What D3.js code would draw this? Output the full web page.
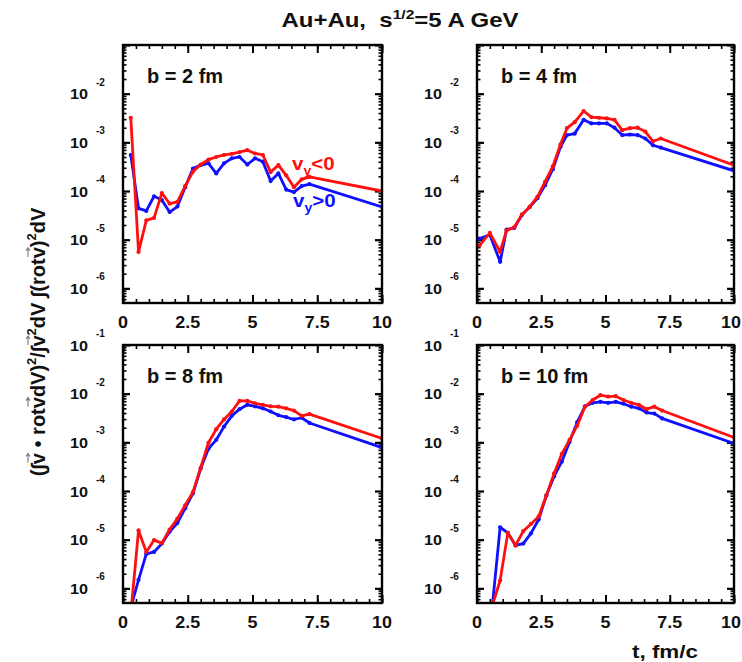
<!DOCTYPE html>
<html>
<head>
<meta charset="utf-8">
<script src="https://cdn.jsdelivr.net/npm/d3@7"></script>
<style>
  body { margin: 0; background: #fff; }
  svg { display: block; }
  text { font-family: "Liberation Sans", Arial, sans-serif; font-weight: bold; fill: #111; }
</style>
</head>
<body>
<svg id="chart" width="742" height="662"></svg>
<script>
// Output times (fm/c)
const timeGrid   = [0.3, 0.6, 0.9, 1.2, 1.5, 1.8, 2.1, 2.4, 2.7, 3.0, 3.3, 3.6, 3.9, 4.2, 4.5, 4.8, 5.1, 5.4, 5.7, 6.0, 6.3, 6.6, 6.9, 7.2, 10];
const timeGridB4 = [0.1, 0.5, 0.9, 1.15, 1.45, 1.75, 2.05, 2.35, 2.65, 2.95, 3.25, 3.5, 3.8, 4.15, 4.45, 4.75, 5.05, 5.35, 5.65, 5.95, 6.25, 6.55, 6.85, 7.15, 10];

// b = 2 fm
const b2Neg = [3.2e-3, 5.6e-6, 2.5e-5, 2.8e-5, 9.1e-5, 5.5e-5, 6.0e-5, 1.26e-4, 2.5e-4, 3.5e-4, 4.4e-4, 5.0e-4, 5.5e-4, 5.8e-4, 6.3e-4, 6.9e-4, 5.9e-4, 5.5e-4, 2.45e-4, 3.4e-4, 2.1e-4, 1.2e-4, 1.74e-4, 1.95e-4, 1.0e-4];
const b2Pos = [5.5e-4, 4.4e-5, 3.9e-5, 7.8e-5, 6.5e-5, 3.7e-5, 4.8e-5, 1.2e-4, 2.9e-4, 3.4e-4, 3.7e-4, 2.3e-4, 3.7e-4, 4.7e-4, 5.0e-4, 3.5e-4, 4.7e-4, 4.0e-4, 1.6e-4, 2.3e-4, 1.07e-4, 9.5e-5, 1.26e-4, 1.38e-4, 4.7e-5];

// b = 4 fm
const b4Neg = [7.6e-6, 1.38e-5, 5.6e-6, 1.55e-5, 1.8e-5, 3.3e-5, 4.7e-5, 7.6e-5, 1.55e-4, 3.2e-4, 9.1e-4, 1.95e-3, 2.6e-3, 4.4e-3, 3.3e-3, 3.2e-3, 3.1e-3, 2.9e-3, 1.78e-3, 1.95e-3, 2.0e-3, 1.66e-3, 1.05e-3, 1.2e-3, 3.4e-4];
const b4Pos = [1.05e-5, 1.26e-5, 3.5e-6, 1.62e-5, 1.74e-5, 3.2e-5, 4.7e-5, 7.1e-5, 1.32e-4, 2.8e-4, 8.1e-4, 1.41e-3, 1.51e-3, 2.9e-3, 2.45e-3, 2.45e-3, 2.45e-3, 2.0e-3, 1.41e-3, 1.45e-3, 1.41e-3, 1.2e-3, 8.7e-4, 7.8e-4, 2.6e-4];

// b = 8 fm
const b8Neg = [3.0e-7, 1.55e-5, 5.6e-6, 9.8e-6, 8.5e-6, 1.62e-5, 2.7e-5, 5.1e-5, 9.5e-5, 3.0e-4, 9.8e-4, 1.86e-3, 2.95e-3, 4.3e-3, 7.1e-3, 7.1e-3, 6.3e-3, 5.9e-3, 5.5e-3, 5.4e-3, 5.0e-3, 4.5e-3, 3.5e-3, 3.8e-3, 1.2e-3];
const b8Pos = [4.0e-7, 1.5e-6, 5.1e-6, 5.6e-6, 8.3e-6, 1.45e-5, 2.2e-5, 4.4e-5, 8.9e-5, 2.9e-4, 7.4e-4, 1.12e-3, 2.1e-3, 3.5e-3, 4.8e-3, 5.9e-3, 5.5e-3, 5.0e-3, 4.3e-3, 3.6e-3, 3.3e-3, 2.95e-3, 3.2e-3, 2.5e-3, 7.8e-4];

// b = 10 fm
const b10Neg = [3.0e-7, 4.5e-7, 1.45e-6, 1.38e-5, 7.6e-6, 1.5e-5, 2.1e-5, 3.0e-5, 8.1e-5, 2.3e-4, 5.8e-4, 1.12e-3, 2.2e-3, 5.4e-3, 7.4e-3, 9.3e-3, 8.7e-3, 8.9e-3, 7.4e-3, 6.5e-3, 5.9e-3, 4.8e-3, 5.4e-3, 4.5e-3, 1.26e-3];
const b10Pos = [3.5e-7, 4.5e-7, 1.8e-5, 1.38e-5, 7.6e-6, 8.3e-6, 1.35e-5, 2.6e-5, 8.1e-5, 2.0e-4, 4.0e-4, 1.02e-3, 2.6e-3, 5.5e-3, 6.5e-3, 6.8e-3, 6.5e-3, 6.8e-3, 6.2e-3, 5.4e-3, 5.0e-3, 4.1e-3, 3.9e-3, 3.1e-3, 9.5e-4];

const panelLabels = ["b = 2 fm", "b = 4 fm", "b = 8 fm", "b = 10 fm"];
const xTickValues = [0, 2.5, 5, 7.5, 10];
const xTickLabels = ["0", "2.5", "5", "7.5", "10"];
const yExpTop    = [-2, -3, -4, -5, -6];
const yExpBottom = [-1, -2, -3, -4, -5, -6];

const RED = "#ff1010", BLUE = "#1010ff";
const W = 742, H = 662;
const svg = d3.select("#chart");
svg.append("rect").attr("width", W).attr("height", H).attr("fill", "#fff");

const PH = 258;
const panels = [
  { label: panelLabels[0], t: timeGrid,   neg: b2Neg,  pos: b2Pos,  x0: 123, w: 259, y0: 45,  exps: yExpTop },
  { label: panelLabels[1], t: timeGridB4, neg: b4Neg,  pos: b4Pos,  x0: 477, w: 257, y0: 45,  exps: yExpTop },
  { label: panelLabels[2], t: timeGrid,   neg: b8Neg,  pos: b8Pos,  x0: 123, w: 259, y0: 345, exps: yExpBottom },
  { label: panelLabels[3], t: timeGrid,   neg: b10Neg, pos: b10Pos, x0: 477, w: 257, y0: 345, exps: yExpBottom }
];

const xMinor = d3.range(0, 10.001, 0.5);
const yMajor = [1e-6, 1e-5, 1e-4, 1e-3, 1e-2, 1e-1];
const yMinor = [];
[-7, -6, -5, -4, -3, -2].forEach(k => {
  for (let m = 2; m <= 9; m++) {
    const v = m * Math.pow(10, k);
    if (v > 5e-7 && v < 1e-1) yMinor.push(v);
  }
});

function styleTicks(sel, width) {
  sel.select(".domain").remove();
  sel.selectAll(".tick line").attr("stroke", "#000").attr("stroke-width", width);
}

// text stretched slightly wider than the font's natural width
function wideText(parent, x, y, size, sx, anchor) {
  return parent.append("text")
    .attr("transform", `translate(${x},${y}) scale(${sx},1)`)
    .attr("text-anchor", anchor || "start")
    .attr("font-size", size);
}

panels.forEach((p, i) => {
  const x = d3.scaleLinear().domain([0, 10]).range([p.x0, p.x0 + p.w]);
  const y = d3.scaleLog().domain([5e-7, 1e-1]).range([p.y0 + PH, p.y0]);
  const g = svg.append("g");

  const clipId = "clip" + i;
  g.append("clipPath").attr("id", clipId)
    .append("rect").attr("x", p.x0).attr("y", p.y0).attr("width", p.w).attr("height", PH);

  // inward ticks on all four sides
  const bottom = p.y0 + PH, right = p.x0 + p.w;
  g.append("g").attr("transform", `translate(0,${bottom})`)
    .call(d3.axisBottom(x).tickValues(xMinor).tickSize(-4).tickFormat("")).call(s => styleTicks(s, 1.6));
  g.append("g").attr("transform", `translate(0,${bottom})`)
    .call(d3.axisBottom(x).tickValues(xTickValues).tickSize(-8).tickFormat("")).call(s => styleTicks(s, 2));
  g.append("g").attr("transform", `translate(0,${p.y0})`)
    .call(d3.axisTop(x).tickValues(xMinor).tickSize(-4).tickFormat("")).call(s => styleTicks(s, 1.6));
  g.append("g").attr("transform", `translate(0,${p.y0})`)
    .call(d3.axisTop(x).tickValues(xTickValues).tickSize(-8).tickFormat("")).call(s => styleTicks(s, 2));
  g.append("g").attr("transform", `translate(${p.x0},0)`)
    .call(d3.axisLeft(y).tickValues(yMinor).tickSize(-3.5).tickFormat("")).call(s => styleTicks(s, 1.6));
  g.append("g").attr("transform", `translate(${p.x0},0)`)
    .call(d3.axisLeft(y).tickValues(yMajor).tickSize(-7).tickFormat("")).call(s => styleTicks(s, 2.2));
  g.append("g").attr("transform", `translate(${right},0)`)
    .call(d3.axisRight(y).tickValues(yMinor).tickSize(-3.5).tickFormat("")).call(s => styleTicks(s, 1.6));
  g.append("g").attr("transform", `translate(${right},0)`)
    .call(d3.axisRight(y).tickValues(yMajor).tickSize(-7).tickFormat("")).call(s => styleTicks(s, 2.2));

  // series
  const line = d3.line().x(d => x(d[0])).y(d => y(d[1]));
  const series = [
    { vals: p.pos, color: BLUE },
    { vals: p.neg, color: RED }
  ];
  const plot = g.append("g").attr("clip-path", `url(#${clipId})`);
  series.forEach(s => {
    const pts = p.t.map((t, j) => [t, s.vals[j]]);
    plot.append("path").datum(pts)
      .attr("d", line).attr("fill", "none")
      .attr("stroke", s.color).attr("stroke-width", 2.8)
      .attr("stroke-linejoin", "round").attr("stroke-linecap", "round");
    plot.selectAll(null).data(pts).enter().append("circle")
      .attr("cx", d => x(d[0])).attr("cy", d => y(d[1])).attr("r", 2.1)
      .attr("fill", s.color);
  });

  // frame
  g.append("rect").attr("x", p.x0).attr("y", p.y0).attr("width", p.w).attr("height", PH)
    .attr("fill", "none").attr("stroke", "#000").attr("stroke-width", 2.4);

  // x tick labels (kept inside the page at the right edge)
  const sx = 1.12;
  xTickValues.forEach((v, j) => {
    const t = wideText(g, x(v), bottom + 25, 16, sx, "middle").text(xTickLabels[j]);
    const half = t.node().getComputedTextLength() * sx / 2;
    if (x(v) + half > W - 1) {
      t.attr("transform", `translate(${W - 1},${bottom + 25}) scale(${sx},1)`).attr("text-anchor", "end");
    }
  });

  // y tick labels: 10 with exponent
  p.exps.forEach(k => {
    const yy = y(Math.pow(10, k));
    wideText(g, p.x0 - 35, yy + 5.5, 15, 1.08, "end").text("10");
    g.append("text").attr("x", p.x0 - 27).attr("y", yy - 8)
      .attr("text-anchor", "start").attr("font-size", 10).text(String(k));
  });

  // panel label
  g.append("text").attr("x", p.x0 + 24).attr("y", p.y0 + 38)
    .attr("font-size", 20).text(p.label);
});

// legend inside the b = 2 fm panel
const legend = [
  { sign: "<0", color: RED,  x: 292, y: 170 },
  { sign: ">0", color: BLUE, x: 293, y: 207 }
];
legend.forEach(l => {
  const t = wideText(svg, l.x, l.y, 19, 1.08, "start").style("fill", l.color);
  t.append("tspan").text("v");
  t.append("tspan").attr("font-size", 13).attr("dy", 5).text("y");
  t.append("tspan").attr("dy", -5).text(l.sign);
});

// title
const title = wideText(svg, 400, 27, 20, 1.2, "middle");
title.append("tspan").text("Au+Au,\u00a0 s");
title.append("tspan").attr("font-size", 13).attr("dy", -8).text("1/2");
title.append("tspan").attr("dy", 8).text("=5 A GeV");

// x axis title
wideText(svg, 632, 658, 19, 1.18, "start").text("t, fm/c");

// y axis title (rotated), vectors marked by arrows drawn over each v
const yTitleG = svg.append("g").attr("transform", "translate(45,342) rotate(-90)");
const yTitle = yTitleG.append("text").attr("x", 0).attr("y", 0).attr("text-anchor", "middle").attr("font-size", 20);
const parts = [
  ["(\u222b", 0], ["v", "vec"], [" \u2022 rot", 0], ["v", "vec"], ["dV)", 0], ["2", "sup"],
  ["/\u222b", 0], ["v", "vec"], ["2", "sup"], ["dV \u222b(rot", 0], ["v", "vec"], [")", 0], ["2", "sup"], ["dV", 0]
];
let raised = false;
const vecNodes = [];
parts.forEach(([txt, kind]) => {
  const ts = yTitle.append("tspan").text(txt);
  if (kind === "sup") {
    ts.attr("font-size", 13).attr("dy", raised ? 0 : -9);
    raised = true;
  } else {
    if (raised) { ts.attr("dy", 9); raised = false; }
    if (kind === "vec") vecNodes.push(ts.node());
  }
});
vecNodes.forEach(n => {
  const e = n.getExtentOfChar(0);
  const x1 = e.x + 1.5, x2 = e.x + e.width - 0.5, yy = e.y + 1;
  yTitleG.append("path")
    .attr("d", `M${x1},${yy} L${x2},${yy} M${x2 - 3},${yy - 2} L${x2},${yy} L${x2 - 3},${yy + 2}`)
    .attr("fill", "none").attr("stroke", "#778").attr("stroke-width", 1.1);
});
</script>
</body>
</html>
